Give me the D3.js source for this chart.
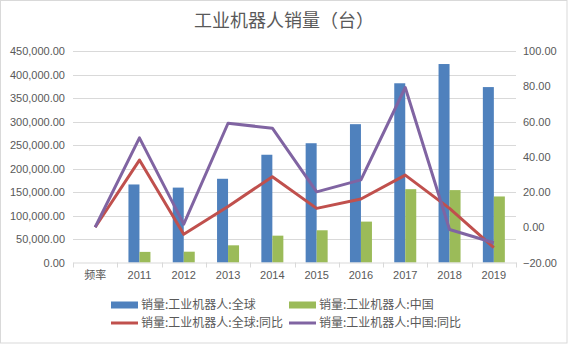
<!DOCTYPE html>
<html>
<head>
<meta charset="utf-8">
<script src="https://cdn.jsdelivr.net/npm/d3@7"></script>
<style>
  html, body { margin: 0; padding: 0; background: #fff; }
  svg { display: block; }
  text { font-family: "Liberation Sans", Arial, "Noto Sans CJK SC", sans-serif; fill: #595959; }
</style>
</head>
<body>
<svg id="chart" width="568" height="344"></svg>
<script>
const categories = ["频率", "2011", "2012", "2013", "2014", "2015", "2016", "2017", "2018", "2019"];
const globalSales = [null, 166028, 159346, 178132, 229261, 253748, 294312, 381335, 422271, 373240];
const chinaSales  = [null, 22577, 22987, 36560, 57096, 68556, 87000, 156000, 154032, 140492];
const globalYoY   = [0, 38.1, -4.0, 11.8, 28.7, 10.7, 16.0, 29.6, 10.7, -11.6];
const chinaYoY    = [0, 50.7, 1.8, 59.0, 56.2, 20.1, 26.9, 79.3, -1.3, -8.8];
const leftTicks  = [0, 50000, 100000, 150000, 200000, 250000, 300000, 350000, 400000, 450000];
const rightTicks = [-20, 0, 20, 40, 60, 80, 100];
const seriesNames = ["销量:工业机器人:全球", "销量:工业机器人:中国", "销量:工业机器人:全球:同比", "销量:工业机器人:中国:同比"];
const colors = ["#4F81BD", "#9BBB59", "#C0504D", "#8064A2"];
const title = "工业机器人销量（台）";

const svg = d3.select("#chart");
const W = 568, H = 344;
const plot = { left: 73, right: 516, top: 51, bottom: 262.5 };

// border
svg.append("rect").attr("x", 0.5).attr("y", 0.5).attr("width", W - 1.5).attr("height", H - 1.5)
  .attr("fill", "#fff").attr("stroke", "#d9d9d9");

const x = d3.scaleBand().domain(categories).range([plot.left, plot.right]).padding(0);
const x1 = d3.scaleBand().domain(["g", "c"]).range([-11, 11]).padding(0);
const yL = d3.scaleLinear().domain([0, 450000]).range([plot.bottom, plot.top]);
const yR = d3.scaleLinear().domain([-20, 100]).range([plot.bottom, plot.top]);

// title
svg.append("text").attr("x", 284).attr("y", 27).attr("text-anchor", "middle")
  .style("font-family", "'Noto Sans CJK SC', sans-serif").style("font-size", "18px").text(title);

// gridlines
svg.append("g").selectAll("line").data(leftTicks.filter(d => d > 0)).join("line")
  .attr("x1", plot.left).attr("x2", plot.right)
  .attr("y1", d => Math.round(yL(d)) + 0.5).attr("y2", d => Math.round(yL(d)) + 0.5)
  .attr("stroke", "#d9d9d9");

// left axis
const fmt = d3.format(",.2f");
const gl = svg.append("g").attr("transform", `translate(${plot.left},0)`)
  .call(d3.axisLeft(yL).tickValues(leftTicks).tickFormat(fmt).tickSize(0).tickPadding(8));
gl.select(".domain").remove();
gl.selectAll("text").style("font-size", "11px").attr("fill", "#595959")
  .style("font-family", "'Liberation Sans', Arial, sans-serif");

// right axis
const gr = svg.append("g").attr("transform", `translate(${plot.right},0)`)
  .call(d3.axisRight(yR).tickValues(rightTicks).tickFormat(fmt).tickSize(0).tickPadding(7));
gr.select(".domain").remove();
gr.selectAll("text").style("font-size", "11px").attr("fill", "#595959")
  .style("font-family", "'Liberation Sans', Arial, sans-serif");

// bars
const barData = [];
categories.forEach((c, i) => {
  if (globalSales[i] != null) barData.push({ c, k: "g", v: globalSales[i], col: colors[0] });
  if (chinaSales[i] != null) barData.push({ c, k: "c", v: chinaSales[i], col: colors[1] });
});
svg.append("g").selectAll("rect").data(barData).join("rect")
  .attr("x", d => x(d.c) + x.bandwidth() / 2 + x1(d.k))
  .attr("width", x1.bandwidth())
  .attr("y", d => yL(d.v))
  .attr("height", d => yL(0) - yL(d.v))
  .attr("fill", d => d.col);

// bottom axis
const gb = svg.append("g").attr("transform", `translate(0,${plot.bottom})`)
  .call(d3.axisBottom(x).tickSize(0).tickPadding(9));
gb.select(".domain").attr("stroke", "#d9d9d9");
gb.selectAll("text").style("font-size", "11px").attr("fill", "#595959")
  .style("font-family", "'Liberation Sans', Arial, 'Noto Sans CJK SC', sans-serif");
// category boundary ticks
const bounds = categories.map(c => x(c)).concat([plot.right]);
svg.append("g").selectAll("line").data(bounds).join("line")
  .attr("x1", d => Math.round(d) + 0.5).attr("x2", d => Math.round(d) + 0.5)
  .attr("y1", plot.bottom).attr("y2", plot.bottom + 5)
  .attr("stroke", "#d9d9d9");

// lines
const line = d3.line().x((d, i) => x(categories[i]) + x.bandwidth() / 2).y(d => yR(d));
svg.append("path").datum(globalYoY).attr("d", line).attr("fill", "none")
  .attr("stroke", colors[2]).attr("stroke-width", 3).attr("stroke-linejoin", "round");
svg.append("path").datum(chinaYoY).attr("d", line).attr("fill", "none")
  .attr("stroke", colors[3]).attr("stroke-width", 3).attr("stroke-linejoin", "round");

// legend
const legendItems = [
  { name: seriesNames[0], col: colors[0], type: "bar", x: 111, y: 305 },
  { name: seriesNames[1], col: colors[1], type: "bar", x: 289, y: 305 },
  { name: seriesNames[2], col: colors[2], type: "line", x: 111, y: 323 },
  { name: seriesNames[3], col: colors[3], type: "line", x: 289, y: 323 }
];
const lg = svg.append("g").selectAll("g").data(legendItems).join("g")
  .attr("transform", d => `translate(${d.x},${d.y})`);
lg.each(function(d) {
  const g = d3.select(this);
  if (d.type === "bar") {
    g.append("rect").attr("x", 0).attr("y", -3.5).attr("width", 27).attr("height", 7).attr("fill", d.col);
  } else {
    g.append("line").attr("x1", 0).attr("x2", 27).attr("y1", 0).attr("y2", 0)
      .attr("stroke", d.col).attr("stroke-width", 3);
  }
  g.append("text").attr("x", 30).attr("y", 0).attr("dy", "0.36em")
    .style("font-size", "12px").style("font-family", "'Noto Sans CJK SC', sans-serif").text(d.name);
});
</script>
</body>
</html>
